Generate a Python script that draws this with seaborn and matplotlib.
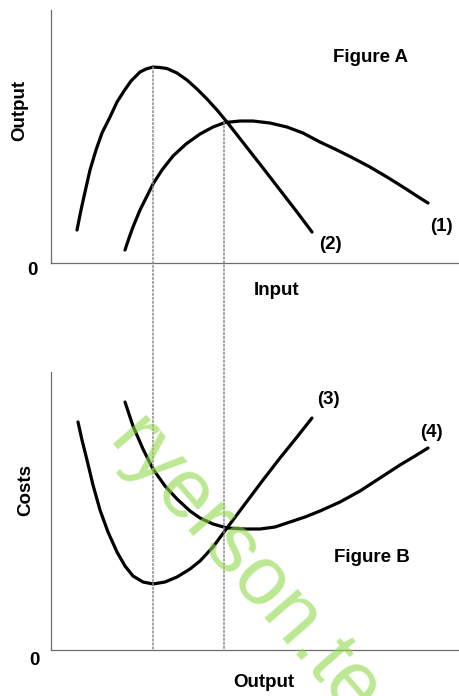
import numpy as np
import pandas as pd
import matplotlib.pyplot as plt
import seaborn as sns
from matplotlib.patches import ConnectionPatch

sns.set_style("white")
plt.rcParams['font.family'] = ['Liberation Sans', 'DejaVu Sans']

# Figure A: output vs input (arbitrary units)
c2_x = [6.5, 7.5, 8.5, 9.75, 11.25, 12.75, 14.75, 16.5, 18.25, 20, 22.25, 23.75, 25.5,
        27.25, 29, 31.5, 34, 36.5, 39, 41.5, 44, 48.5, 53, 57.25, 61.5, 65.25]
c2_y = [13.2, 21.2, 28.4, 37.2, 45.2, 52, 58.4, 64.4, 68.8, 72.8, 76.4, 77.6, 78.4,
        78.2, 77.8, 76, 73.2, 69.6, 65.6, 61.2, 56.4, 47.2, 38, 29.2, 20.4, 12.4]
c1_x = [18.5, 19.5, 20.5, 22.25, 24, 25.5, 27.75, 30.5, 33.75, 37.25, 40.5, 43.5, 47.25,
        50.5, 54.75, 59, 63, 67.25, 71.5, 75.5, 79.75, 84, 88, 92.25, 94.25]
c1_y = [5.2, 10, 14.4, 21.2, 26.8, 31.6, 37.2, 42.8, 47.6, 51.6, 54.4, 56.2, 56.8,
        56.8, 56, 54.4, 52, 48.4, 45.2, 42, 38.4, 34.4, 30.4, 26, 24]

# Figure B: costs vs output
c3_x = [6.75, 7.75, 9, 10.5, 12.25, 14.25, 16.5, 18.5, 20.5, 23, 25.5, 28.5, 31.5,
        34.75, 37.25, 40.5, 44, 48.5, 53, 57.25, 61.5, 65.25]
c3_y = [91.2, 84, 76, 66, 56, 47.2, 39.2, 33.6, 29.6, 27.2, 26.4, 27.2, 29.2,
        32.4, 35.6, 41.2, 48.8, 58.4, 68, 76.8, 85.2, 92.8]
c4_x = [18.5, 19.5, 20.5, 23, 25.5, 28.5, 31.5, 34.75, 37.25, 40.5, 44, 48.5, 52.25,
        56, 59.75, 63.5, 67.25, 72.25, 77.25, 82.25, 87.25, 91, 94.25]
c4_y = [99.2, 94.4, 89.6, 80.4, 72.4, 65.6, 60.4, 55.6, 52.8, 50.4, 48.8, 48.4, 48.4,
        49.2, 51.2, 53.2, 55.6, 59.2, 63.6, 68.8, 74, 77.6, 80.8]

# dotted guides: peak of (2) and crossing of (1)/(2)
guide_x = [25.5, 43.25]
guide_y = [78.4, 56.4]

fig = plt.figure(figsize=(4.59, 6.96), dpi=100)
ax1 = fig.add_axes([0.1111, 0.6221, 0.8889, 0.3635])
ax2 = fig.add_axes([0.1111, 0.0661, 0.8889, 0.3994])

lw = 2.3
for x, y in [(c2_x, c2_y), (c1_x, c1_y)]:
    sns.lineplot(x=x, y=y, ax=ax1, color='black', lw=lw, sort=False, estimator=None)
for x, y in [(c3_x, c3_y), (c4_x, c4_y)]:
    sns.lineplot(x=x, y=y, ax=ax2, color='black', lw=lw, sort=False, estimator=None)

ax1.set_xlim(0, 102)
ax1.set_ylim(0, 101.2)
ax2.set_xlim(0, 102)
ax2.set_ylim(0, 111.2)

for ax in (ax1, ax2):
    sns.despine(ax=ax)
    ax.set_xticks([])
    ax.set_yticks([])
    ax.set_xlabel('')
    ax.set_ylabel('')
    ax.patch.set_alpha(0)
    for s in ('left', 'bottom'):
        ax.spines[s].set_color('#6e6e6e')
        ax.spines[s].set_linewidth(0.9)

for gx, gy in zip(guide_x, guide_y):
    con = ConnectionPatch(xyA=(gx, gy), coordsA=ax1.transData,
                          xyB=(gx, 0), coordsB=ax2.transData,
                          color='#8a8a8a', lw=1.1, linestyle=(0, (1.2, 1.4)))
    fig.add_artist(con)

tkw = dict(fontsize=13.5, fontweight='bold', ha='center', va='center', color='black')
fig.text(0.0436, 0.842, 'Output', rotation=90, **tkw)
fig.text(0.0566, 0.296, 'Costs', rotation=90, **tkw)
fig.text(0.0697, 0.612, '0', **tkw)
fig.text(0.074, 0.0517, '0', **tkw)
fig.text(0.6035, 0.5833, 'Input', **tkw)
fig.text(0.575, 0.0187, 'Output', **tkw)
fig.text(0.808, 0.918, 'Figure A', **tkw)
fig.text(0.810, 0.1997, 'Figure B', **tkw)
fig.text(0.961, 0.674, '(1)', **tkw)
fig.text(0.719, 0.648, '(2)', **tkw)
fig.text(0.715, 0.4253, '(3)', **tkw)
fig.text(0.941, 0.379, '(4)', **tkw)

# watermark
fig.text(0.562, 0.161, 'ryerson.tes', rotation=-49, rotation_mode='anchor',
         ha='center', va='center', fontsize=60, color='#8fd94a', alpha=0.6, zorder=10)

fig.savefig('out.png', dpi=100)
